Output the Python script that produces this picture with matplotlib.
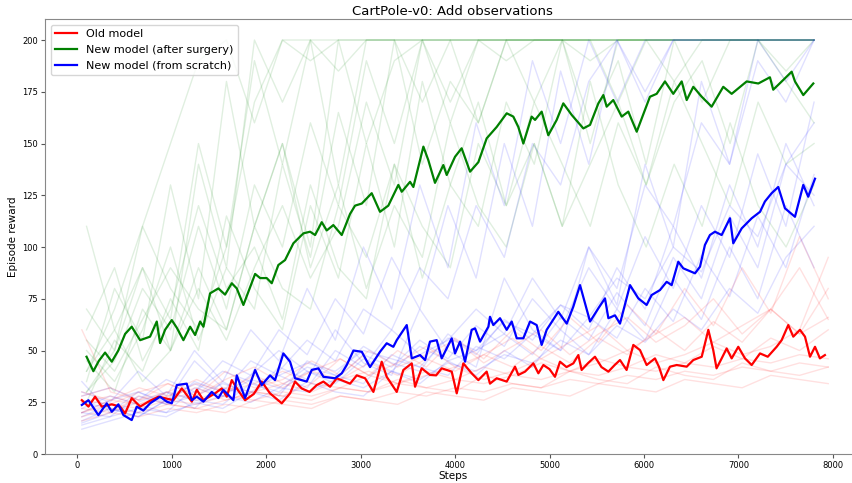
import numpy as np
from matplotlib import pyplot as plt

# bold mean curves (steps, reward)
old_steps = [50, 120, 190, 261, 367, 455, 508, 578, 667, 755, 861, 1019, 1108, 1214, 1267, 1337, 1460,
             1531, 1584, 1637, 1700, 1778, 1870, 1954, 2042, 2166, 2254, 2307, 2377, 2460, 2536, 2607, 2677,
             2748, 2889, 2960, 3048, 3136, 3224, 3277, 3383, 3453, 3542, 3577, 3647, 3735, 3800, 3859, 3965,
             4018, 4088, 4176, 4247, 4335, 4370, 4441, 4547, 4635, 4670, 4741, 4829, 4882, 4935, 5000, 5058,
             5111, 5180, 5252, 5305, 5340, 5410, 5481, 5550, 5623, 5690, 5746, 5816, 5887, 5958, 6028, 6116,
             6160, 6205, 6275, 6346, 6452, 6522, 6611, 6681, 6733, 6768, 6820, 6875, 6928, 6998, 7069, 7140,
             7228, 7310, 7404, 7457, 7527, 7580, 7651, 7704, 7757, 7810, 7862, 7915]
old_mean = [26, 22.9, 27.7, 22.9, 24, 22.9, 19.6, 27, 22.9, 25.3, 27.7, 26, 31.7, 25.3, 31, 26, 29.3,
            31.7, 27.7, 35.7, 31, 26, 29, 35, 29.3, 24.5, 29.3, 35, 31.7, 30, 33.3, 35, 32.5,
            36.6, 34, 38, 36.6, 30, 44.6, 37.3, 30, 40.6, 43.8, 32.5, 41.4, 38.2, 38, 41.4, 39.8,
            29.3, 43.8, 39, 35.7, 39.8, 34, 36.6, 35, 42.2, 38.2, 39.8, 43.8, 39, 43, 41, 37.3,
            44.6, 42, 43.8, 47.8, 40.6, 44, 47, 42, 39.8, 43, 45.4, 40.6, 52.7, 50.2, 43, 46.2,
            42, 35.7, 42.2, 43, 42.2, 45.4, 47, 60, 50.2, 41.4, 46, 51, 46.2, 51.8, 46.2, 43,
            48.6, 47, 51.8, 55, 62.3, 56.7, 60, 56.7, 47, 51.8, 46.2, 47.8]

surgery_steps = [100, 172, 230, 296, 367, 436, 508, 578, 667, 772, 843, 878, 931, 1002, 1055, 1125, 1196,
                 1249, 1302, 1337, 1407, 1495, 1566, 1637, 1690, 1760, 1813, 1884, 1937, 2007, 2060, 2130,
                 2201, 2289, 2395, 2466, 2519, 2589, 2642, 2712, 2801, 2889, 2942, 3013, 3118, 3206, 3294,
                 3400, 3436, 3524, 3559, 3665, 3717, 3788, 3876, 3912, 4000, 4070, 4159, 4247, 4335, 4441,
                 4547, 4617, 4670, 4723, 4811, 4847, 4917, 4987, 5076, 5146, 5235, 5358, 5429, 5517, 5570,
                 5605, 5675, 5764, 5834, 5923, 6063, 6134, 6222, 6310, 6399, 6452, 6522, 6611, 6716, 6839,
                 6928, 7087, 7210, 7333, 7368, 7474, 7563, 7598, 7686, 7792]
surgery_mean = [47, 40, 45, 49, 44.6, 50, 58, 61.5, 55, 56.7, 64, 53.6, 60, 64.7, 61, 55, 61.5,
                57.5, 64, 61.5, 77.6, 80, 77, 82.5, 80, 72, 78.4, 87, 85, 85, 82.5, 91.3,
                93.7, 101.8, 106.6, 107.4, 105.8, 112, 108, 110.6, 105.8, 116, 120, 121, 126, 117, 120,
                130, 126.7, 131.5, 129, 148.5, 142, 131, 139.6, 134.8, 143.6, 147.7, 136.4, 141, 152.5, 158,
                164.6, 163, 158, 150, 163, 161.4, 165.4, 154, 161.4, 169.4, 163.8, 157.3, 159, 169.4, 173.4,
                167.8, 171, 163, 165.4, 155.7, 172.6, 174, 180, 174, 180, 171, 177.4, 172.6, 167.8, 177.4,
                174, 180, 179, 182, 176, 180.7, 184.7, 180, 173.4, 179]

scratch_steps = [50, 120, 225, 314, 367, 437, 490, 578, 631, 701, 772, 878, 949, 1002, 1055, 1160, 1214,
                 1267, 1337, 1425, 1495, 1548, 1654, 1690, 1778, 1884, 1954, 2042, 2095, 2183, 2254, 2307,
                 2430, 2483, 2554, 2607, 2730, 2801, 2854, 2925, 3013, 3100, 3206, 3277, 3347, 3383, 3489,
                 3542, 3630, 3683, 3735, 3806, 3859, 3965, 4000, 4053, 4106, 4176, 4212, 4265, 4353, 4370,
                 4405, 4476, 4547, 4600, 4653, 4723, 4794, 4864, 4917, 4970, 5093, 5182, 5252, 5323, 5429,
                 5517, 5587, 5623, 5693, 5746, 5852, 5940, 6028, 6081, 6169, 6240, 6293, 6363, 6416, 6540,
                 6593, 6645, 6698, 6751, 6822, 6910, 6945, 7034, 7140, 7228, 7280, 7351, 7421, 7492, 7598,
                 7686, 7738, 7810]
scratch_mean = [23.7, 26, 18.8, 24.5, 20.4, 24, 18.8, 16.4, 22.9, 21, 24.5, 27.7, 25.3, 24.5, 33.3, 34, 26,
                27.7, 25.3, 30, 27, 31, 26, 38, 27, 40.6, 33.3, 38, 35.7, 48.6, 44.6, 36.6,
                35, 40.6, 41.4, 37.3, 36.6, 39, 43, 50, 49.4, 42, 49.4, 53.5, 51.8, 55, 62.3,
                46.2, 47.8, 45.4, 54.3, 55, 46.2, 55.9, 48.6, 54.3, 44.6, 60, 60.7, 54.3, 61.5, 66.3,
                62.3, 65.6, 60, 64, 55.9, 55.9, 64, 62.3, 52.7, 60, 68.7, 63, 71.2, 81.6, 64,
                70.4, 75.2, 65.6, 67, 63, 81.6, 75.2, 72, 76.8, 79.2, 83.2, 81.6, 92.9, 89.7, 87.3,
                90.5, 101, 105.8, 107.4, 105.8, 113.9, 101.8, 109, 113.9, 117, 122, 126, 129, 118.7, 114.6,
                130, 124.3, 133]

# individual runs, read roughly every ~300 steps
old_run_steps = np.linspace(50, 7950, 27)
old_runs = [
    [20, 24, 22, 26, 24, 28, 26, 30, 28, 32, 30, 34, 32, 36, 34, 38, 36, 40, 38, 42, 40, 44, 42, 46, 44, 48, 46],
    [30, 26, 32, 28, 34, 30, 38, 32, 40, 36, 44, 38, 46, 40, 48, 42, 52, 44, 56, 48, 60, 50, 64, 54, 70, 58, 80],
    [18, 22, 20, 24, 22, 20, 26, 24, 22, 28, 26, 24, 30, 28, 26, 32, 30, 28, 34, 32, 30, 36, 34, 32, 38, 36, 34],
    [60, 30, 26, 34, 28, 40, 32, 36, 45, 38, 50, 42, 48, 55, 44, 52, 60, 48, 58, 66, 54, 62, 75, 58, 70, 90, 65],
    [25, 28, 24, 30, 26, 32, 30, 28, 34, 32, 38, 34, 40, 36, 42, 38, 44, 40, 46, 42, 48, 44, 52, 46, 56, 50, 60],
    [22, 20, 28, 24, 22, 26, 30, 28, 26, 32, 30, 36, 32, 30, 38, 34, 32, 40, 36, 34, 42, 38, 36, 44, 40, 38, 42],
    [28, 32, 26, 30, 36, 30, 34, 40, 34, 46, 38, 50, 42, 56, 46, 60, 50, 66, 54, 72, 58, 80, 62, 90, 68, 105, 75],
    [16, 20, 18, 22, 20, 24, 22, 26, 24, 28, 26, 30, 28, 32, 30, 34, 32, 36, 34, 38, 36, 40, 38, 42, 40, 44, 42],
    [26, 24, 30, 34, 28, 36, 42, 34, 40, 46, 38, 44, 52, 42, 48, 56, 46, 54, 62, 50, 58, 66, 54, 62, 70, 58, 66],
    [20, 26, 24, 28, 32, 26, 30, 34, 30, 36, 40, 34, 38, 42, 36, 40, 46, 40, 44, 50, 44, 48, 54, 48, 52, 60, 95],
]

surgery_run_steps = np.linspace(100, 7800, 27)
surgery_runs = [
    [40, 70, 110, 150, 190, 200, 160, 200, 200, 185, 200, 200, 200, 200, 200, 200, 200, 200, 200, 200, 200, 200, 200, 200, 200, 200, 200],
    [110, 60, 90, 50, 140, 90, 200, 170, 200, 130, 200, 200, 200, 200, 200, 200, 200, 200, 200, 200, 200, 200, 200, 200, 200, 200, 200],
    [30, 45, 80, 60, 110, 70, 130, 100, 160, 120, 190, 150, 200, 170, 200, 200, 200, 200, 190, 200, 200, 200, 200, 200, 200, 200, 200],
    [50, 35, 60, 100, 55, 90, 70, 140, 95, 165, 120, 200, 140, 180, 160, 200, 170, 200, 150, 200, 200, 180, 200, 200, 200, 200, 200],
    [25, 55, 40, 75, 50, 115, 80, 60, 120, 85, 150, 100, 180, 130, 110, 170, 140, 200, 160, 190, 140, 200, 170, 200, 200, 185, 200],
    [60, 90, 45, 70, 120, 80, 100, 65, 130, 90, 75, 140, 110, 90, 150, 120, 170, 140, 110, 160, 130, 180, 150, 120, 170, 140, 150],
    [45, 30, 70, 50, 90, 60, 110, 150, 100, 200, 150, 190, 200, 200, 160, 200, 200, 200, 200, 200, 200, 200, 200, 200, 200, 200, 200],
    [35, 80, 55, 130, 75, 180, 110, 150, 90, 130, 80, 120, 95, 160, 120, 100, 150, 110, 180, 130, 100, 140, 110, 160, 120, 100, 130],
    [70, 50, 110, 80, 60, 100, 190, 140, 200, 200, 200, 200, 170, 200, 200, 200, 200, 200, 200, 200, 200, 200, 200, 200, 200, 200, 200],
    [40, 60, 35, 50, 80, 55, 90, 120, 85, 110, 170, 130, 200, 160, 200, 190, 200, 200, 200, 170, 200, 200, 200, 200, 200, 200, 200],
    [55, 40, 65, 90, 70, 60, 110, 80, 70, 120, 95, 140, 85, 130, 170, 120, 150, 110, 140, 170, 130, 170, 190, 150, 200, 180, 160],
    [30, 50, 90, 65, 150, 100, 170, 200, 190, 200, 200, 200, 200, 200, 200, 200, 200, 200, 200, 200, 200, 200, 200, 200, 200, 200, 200],
]

scratch_run_steps = np.linspace(50, 7800, 27)
scratch_runs = [
    [15, 20, 25, 30, 22, 35, 28, 40, 55, 45, 70, 60, 90, 75, 120, 95, 150, 130, 180, 200, 170, 200, 200, 200, 200, 200, 200],
    [20, 18, 28, 24, 35, 30, 45, 38, 32, 50, 42, 60, 48, 55, 70, 58, 85, 65, 100, 80, 130, 110, 160, 140, 190, 170, 200],
    [25, 22, 18, 26, 30, 40, 35, 28, 45, 38, 52, 44, 40, 58, 48, 65, 55, 72, 60, 90, 70, 110, 85, 130, 100, 150, 120],
    [12, 16, 20, 18, 25, 22, 30, 26, 35, 30, 28, 40, 34, 45, 38, 50, 42, 60, 48, 70, 55, 85, 65, 100, 75, 120, 90],
    [30, 25, 40, 28, 50, 35, 60, 45, 80, 55, 100, 70, 130, 90, 160, 120, 190, 150, 200, 170, 200, 200, 200, 200, 200, 200, 200],
    [18, 24, 20, 30, 26, 24, 34, 30, 40, 36, 48, 42, 55, 46, 62, 52, 75, 60, 90, 70, 105, 80, 120, 95, 145, 110, 170],
    [22, 28, 24, 20, 32, 28, 38, 50, 40, 34, 46, 40, 52, 45, 50, 58, 48, 66, 55, 78, 62, 95, 75, 115, 90, 140, 160],
    [35, 20, 30, 25, 45, 32, 28, 42, 36, 60, 44, 38, 70, 50, 42, 85, 60, 50, 100, 72, 140, 100, 180, 140, 200, 180, 200],
    [14, 18, 22, 20, 24, 28, 25, 32, 30, 36, 32, 40, 36, 44, 40, 48, 44, 55, 48, 62, 54, 70, 60, 80, 68, 95, 110],
    [28, 32, 26, 36, 30, 45, 38, 60, 48, 75, 58, 95, 70, 120, 85, 150, 110, 185, 140, 200, 175, 200, 200, 200, 200, 200, 200],
    [20, 26, 30, 24, 28, 34, 30, 38, 44, 40, 50, 46, 42, 56, 50, 64, 58, 72, 66, 85, 75, 100, 88, 120, 105, 140, 125],
    [16, 22, 18, 26, 34, 28, 36, 32, 42, 38, 34, 48, 42, 38, 52, 46, 58, 50, 66, 56, 80, 64, 96, 76, 115, 90, 135],
]

fig = plt.figure(figsize=(8.52, 4.83), dpi=100)
ax = fig.add_axes([0.0528, 0.06, 0.957, 0.90])

for run in surgery_runs:
    ax.plot(surgery_run_steps, run, color='green', alpha=0.12, lw=1)
for run in scratch_runs:
    ax.plot(scratch_run_steps, run, color='blue', alpha=0.12, lw=1)
for run in old_runs:
    ax.plot(old_run_steps, run, color='red', alpha=0.12, lw=1)

ax.plot(old_steps, old_mean, color='red', lw=1.6, label='Old model')
ax.plot(surgery_steps, surgery_mean, color='green', lw=1.6, label='New model (after surgery)')
ax.plot(scratch_steps, scratch_mean, color='blue', lw=1.6, label='New model (from scratch)')

ax.set_xlim(-340, 8290)
ax.set_ylim(0, 210)
ax.set_xticks(range(0, 8001, 1000))
ax.set_yticks(range(0, 201, 25))
ax.tick_params(labelsize=6, length=3, pad=2, color='#555555')
for s in ax.spines.values():
    s.set_color('#888888')
ax.set_title('CartPole-v0: Add observations', fontsize=9.5, pad=3)
ax.set_xlabel('Steps', fontsize=7.5, labelpad=1)
ax.set_ylabel('Episode reward', fontsize=7.5, labelpad=3)
ax.legend(loc='upper left', fontsize=8)

fig.savefig('out.png', dpi=100)
